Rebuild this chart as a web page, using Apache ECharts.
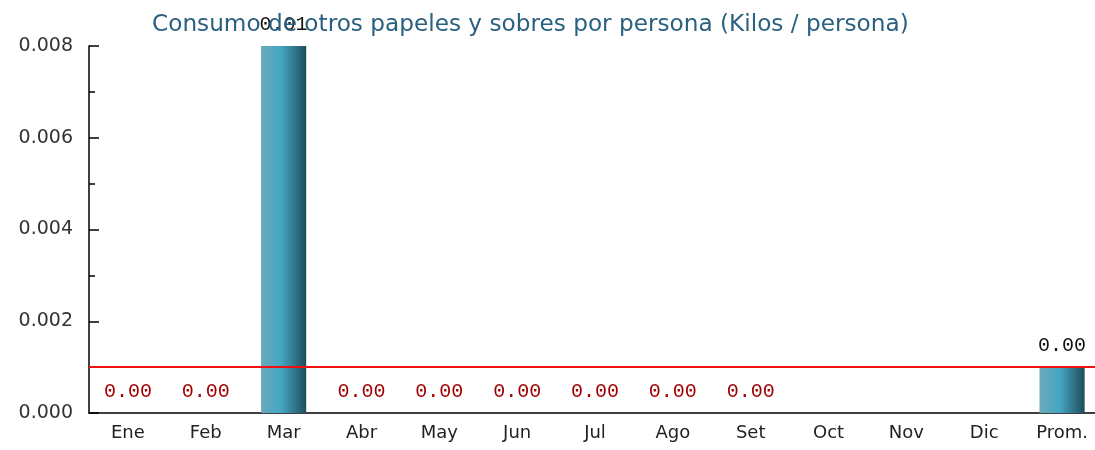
<!DOCTYPE html>
<html>
<head>
<meta charset="utf-8">
<script src="https://cdn.jsdelivr.net/npm/echarts@6/dist/echarts.min.js"></script>
<style>html,body{margin:0;padding:0;background:#fff;overflow:hidden;}#c{width:1104px;height:450px;}</style>
</head>
<body>
<div id="c"></div>
<script>
const categories = ['Ene','Feb','Mar','Abr','May','Jun','Jul','Ago','Set','Oct','Nov','Dic','Prom.'];
const values = [0, 0, 0.008, 0, 0, 0, 0, 0, 0, null, null, null, 0.001];
const averageLine = 0.001;
const yTicks = { min: 0, max: 0.008, interval: 0.002 };
const titleText = 'Consumo de otros papeles y sobres por persona (Kilos / persona)';

const barGradient = new echarts.graphic.LinearGradient(0, 0, 1, 0, [
  { offset: 0, color: '#6aaabb' },
  { offset: 0.45, color: '#44a6c2' },
  { offset: 1, color: '#1f4d5b' }
]);

const seriesData = values.map(function (v) {
  if (v === null) return null;
  return {
    value: v,
    label: { color: v === 0 ? '#a00000' : '#111' }
  };
});

const chart = echarts.init(document.getElementById('c'));
chart.setOption({
  animation: false,
  title: {
    text: titleText,
    left: 147,
    top: 8,
    textStyle: { fontFamily: 'DejaVu Sans', fontSize: 23.2, fontWeight: 'normal', color: '#2a6080' }
  },
  grid: { left: 89, top: 46, width: 1012, bottom: 37, containLabel: false },
  xAxis: {
    type: 'category',
    data: categories,
    axisLine: { lineStyle: { color: '#000', width: 1.5 } },
    axisTick: { inside: true, length: 8, lineStyle: { color: '#000', width: 1.5 } },
    axisLabel: { fontFamily: 'DejaVu Sans', fontSize: 18, color: '#222', margin: 11 }
  },
  yAxis: {
    type: 'value',
    min: yTicks.min,
    max: yTicks.max,
    interval: yTicks.interval,
    axisLine: { show: true, lineStyle: { color: '#000', width: 1.5 } },
    axisTick: { show: true, inside: true, length: 10, lineStyle: { color: '#000', width: 1.5 } },
    minorTick: { show: true, splitNumber: 2, length: 6, lineStyle: { color: '#000', width: 1.5 } },
    splitLine: { show: false },
    axisLabel: { fontFamily: 'DejaVu Sans', fontSize: 19, color: '#333', margin: 16, formatter: function (v) { return v.toFixed(3); } }
  },
  series: [{
    type: 'bar',
    data: seriesData,
    barWidth: '58%',
    itemStyle: { color: barGradient },
    label: {
      show: true,
      position: 'top',
      distance: 11,
      fontFamily: 'Liberation Mono',
      fontSize: 20,
      formatter: function (p) { return Number(p.value).toFixed(2); }
    },
    markLine: {
      silent: true,
      symbol: 'none',
      precision: 6,
      label: { show: false },
      lineStyle: { color: '#f01010', width: 2, type: 'solid' },
      data: [{ yAxis: averageLine }]
    }
  }]
});
</script>
</body>
</html>
